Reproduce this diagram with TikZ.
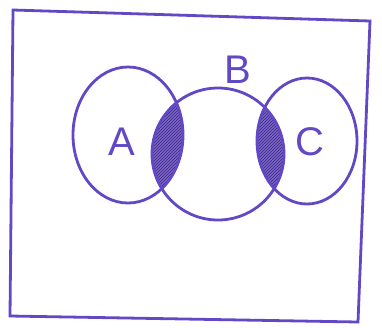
\documentclass[tikz,border=0pt]{standalone}
\usepackage{fontspec}
\setsansfont{Liberation Sans}
\usetikzlibrary{patterns}
\definecolor{pen}{RGB}{98,72,196}
\tikzset{
  setline/.style={pen,line width=2.8pt},
  setname/.style={pen,font=\fontsize{40}{40}\selectfont\sffamily}
}
\begin{document}
\begin{tikzpicture}[x=1pt,y=-1pt]
  \useasboundingbox (0,0) rectangle (382,327);
  % frame
  \draw[setline] (13,10) -- (370,21) -- (358,322) -- (10,316) -- cycle;
  % shaded parts A and B, B and C
  \begin{scope}
    \clip (128,135) ellipse [x radius=55,y radius=68];
    \fill[pen!85] (218,154) circle [radius=66];
    \fill[pattern=north east lines,pattern color=pen!60!black] (218,154) circle [radius=66];
  \end{scope}
  \begin{scope}
    \clip (307,141) ellipse [x radius=50,y radius=63];
    \fill[pen!85] (218,154) circle [radius=66];
    \fill[pattern=north east lines,pattern color=pen!60!black] (218,154) circle [radius=66];
  \end{scope}
  % the three sets
  \draw[setline] (128,135) ellipse [x radius=55,y radius=68];
  \draw[setline] (218,154) circle [radius=66];
  \draw[setline] (307,141) ellipse [x radius=50,y radius=63];
  \node[setname] (a) at (122,142) {A};
  \node[setname] (b) at (238,70) {B};
  \node[setname] (c) at (310,142) {C};
\end{tikzpicture}
\end{document}
